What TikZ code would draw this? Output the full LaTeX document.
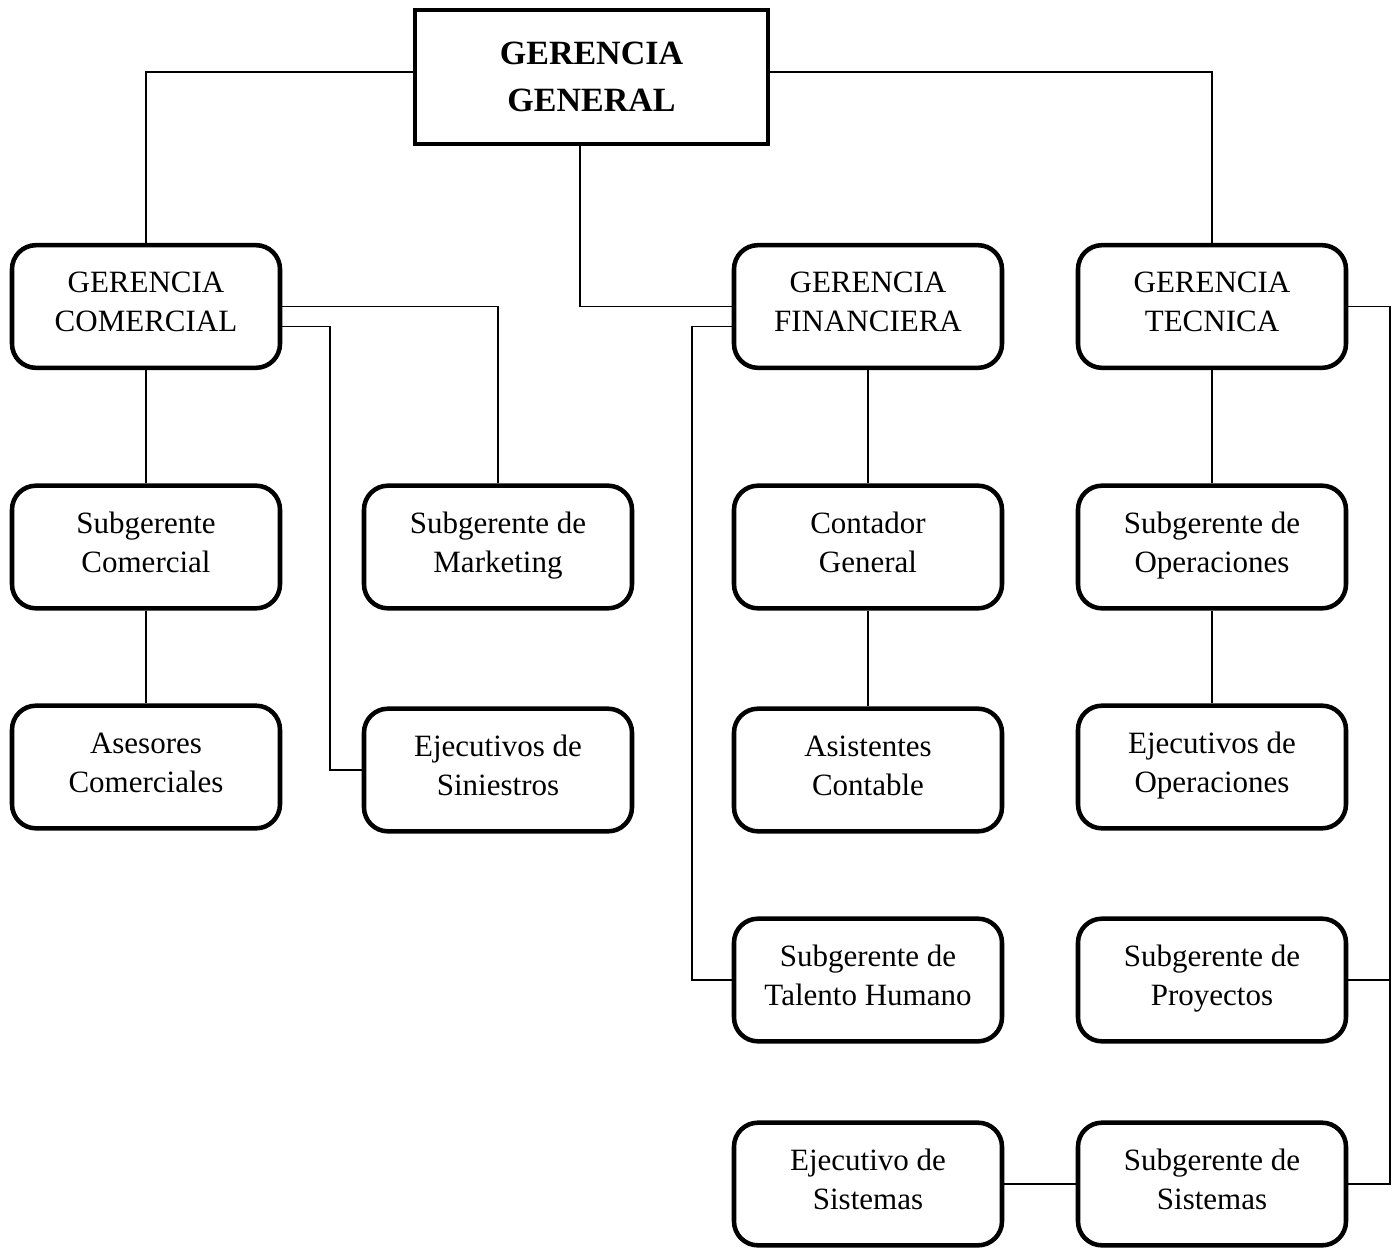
\documentclass[tikz,border=0pt]{standalone}
\usepackage{fontspec}
\setmainfont{Liberation Serif}
\usepackage{tikz}
\usetikzlibrary{positioning,calc}
\tikzstyle{line} = [draw,line width=1.2pt]
\tikzstyle{gerencia} = [draw,line width=3pt,rectangle,align=center,minimum width=265pt,minimum height=100.5pt,font=\bfseries\fontsize{25.5}{35.25}\selectfont]
\tikzstyle{cargo} = [draw,line width=3.4pt,rectangle,rounded corners=18pt,align=center,minimum width=201pt,minimum height=92pt,text depth=6.75pt,font=\fontsize{23.25}{29.25}\selectfont]

\begin{document}
\begin{tikzpicture}[x=0.75pt,y=-0.75pt]
    \useasboundingbox (0,0) rectangle (1397,1247);
    \node[gerencia] (gg) at (591.5,77) {GERENCIA\\GENERAL};
    % gerencias
    \node[cargo] (gc) at (146,306.5) {GERENCIA\\COMERCIAL};
    \node[cargo] (gf) at (868,306.5) {GERENCIA\\FINANCIERA};
    \node[cargo] (gt) at (1212,306.5) {GERENCIA\\TECNICA};
    % subgerentes
    \node[cargo] (sc) at (146,547) {Subgerente\\Comercial};
    \node[cargo] (sm) at (498,547) {Subgerente de\\Marketing};
    \node[cargo] (cg) at (868,547) {Contador\\General};
    \node[cargo] (so) at (1212,547) {Subgerente de\\Operaciones};
    \node[cargo] (ac) at (146,767) {Asesores\\Comerciales};
    \node[cargo] (es) at (498,770) {Ejecutivos de\\Siniestros};
    \node[cargo] (asc) at (868,770) {Asistentes\\Contable};
    \node[cargo] (eo) at (1212,767) {Ejecutivos de\\Operaciones};
    \node[cargo] (sth) at (868,980) {Subgerente de\\Talento Humano};
    \node[cargo] (sp) at (1212,980) {Subgerente de\\Proyectos};
    \node[cargo] (esi) at (868,1184) {Ejecutivo de\\Sistemas};
    \node[cargo] (ss) at (1212,1184) {Subgerente de\\Sistemas};

    \path [line] ([yshift=3.75pt]gg.west) -| (gc.north);
    \path [line] ([yshift=3.75pt]gg.east) -| (gt.north);
    \path [line] ([xshift=-8.5pt]gg.south) |- (gf.west);
    \path [line] (gc.east) -| (sm.north);
    \path [line] ([yshift=-15pt]gc.east) -- ++(36pt,0) |- (es.west);
    \path [line] (gc.south) -- (sc.north);
    \path [line] (sc.south) -- (ac.north);
    \path [line] ([yshift=-15pt]gf.west) -- ++(-30pt,0) |- (sth.west);
    \path [line] (gf.south) -- (cg.north);
    \path [line] (cg.south) -- (asc.north);
    \path [line] (gt.south) -- (so.north);
    \path [line] (so.south) -- (eo.north);
    \path [line] (gt.east) -- ++(31.5pt,0) coordinate (tbus) |- (ss.east);
    \path [line] (sp.east) -- (sp.east -| tbus);
    \path [line] (esi.east) -- (ss.west);
\end{tikzpicture}
\end{document}
